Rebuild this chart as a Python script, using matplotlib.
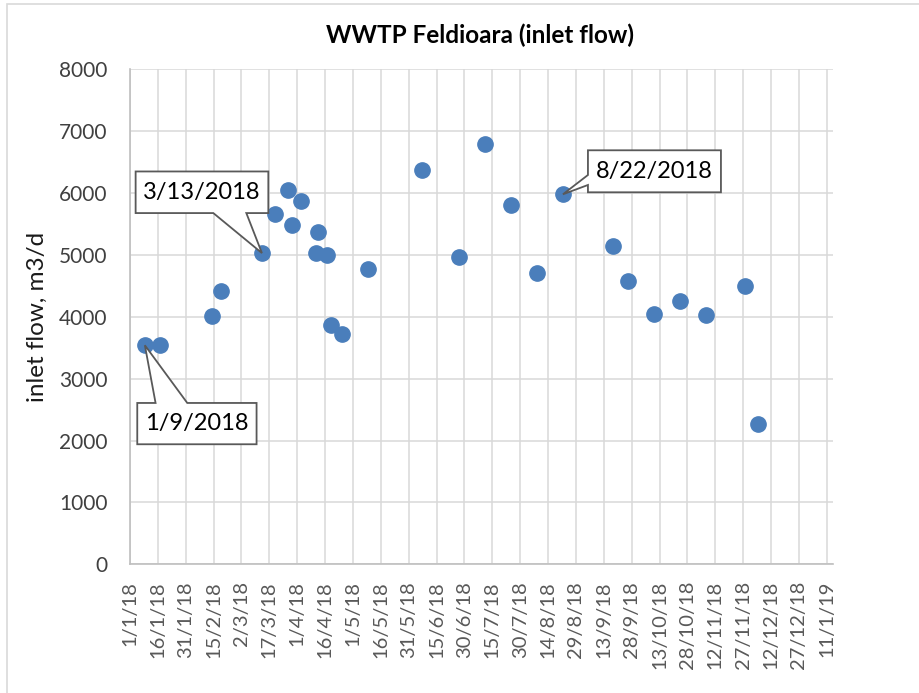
import datetime as dt

import matplotlib
matplotlib.use("Agg")
import matplotlib.pyplot as plt
import matplotlib.dates as mdates
import matplotlib.transforms as mtransforms
from matplotlib.patches import Rectangle, Polygon

# sampling dates and measured inlet flow (m3/d)
sample_dates = ["2018-01-09", "2018-01-17", "2018-02-14", "2018-02-19",
                "2018-03-13", "2018-03-20", "2018-03-27", "2018-03-29",
                "2018-04-03", "2018-04-12", "2018-04-11", "2018-04-17",
                "2018-04-19", "2018-04-25", "2018-05-09", "2018-06-07",
                "2018-06-27", "2018-07-11", "2018-07-25", "2018-08-08",
                "2018-08-22", "2018-09-18", "2018-09-26", "2018-10-10",
                "2018-10-24", "2018-11-07", "2018-11-28", "2018-12-05"]
inlet_flow = [3540, 3550, 4010, 4410,
              5030, 5660, 6050, 5480,
              5870, 5370, 5030, 5000,
              3860, 3730, 4780, 6380,
              4960, 6790, 5800, 4710,
              5980, 5140, 4580, 4050,
              4260, 4030, 4500, 2260]

# labelled points
callouts = ["2018-01-09", "2018-03-13", "2018-08-22"]

# callout shapes in pixels relative to the point:
# box (left, right, bottom, top), pointer base on one edge, text centre
callout_geom = {
    "2018-01-09": dict(box=(-7.6, 111.7, -99, -57.7), edge="top",
                       base=(10.7, 42.4), text=(52, -78.3)),
    "2018-03-13": dict(box=(-126.3, 6.4, 40, 81.6), edge="bottom",
                       base=(-48.6, -15.6), text=(-60, 60.8)),
    "2018-08-22": dict(box=(25, 158, 2, 44), edge="left",
                       base=(9.3, 19.3), text=(91.5, 23)),
}

x_start = dt.datetime(2018, 1, 1)
x_end = dt.datetime(2019, 1, 14, 12)
tick_step_days = 15

dates = [dt.datetime.strptime(d, "%Y-%m-%d") for d in sample_dates]


def callout_outline(box, edge, base):
    l, r, b, t = box
    b0, b1 = base
    if edge == "top":
        return [(l, t), (b0, t), (0, 0), (b1, t), (r, t), (r, b), (l, b)]
    if edge == "bottom":
        return [(l, t), (r, t), (r, b), (b1, b), (0, 0), (b0, b), (l, b)]
    # left edge
    return [(l, t), (r, t), (r, b), (l, b), (l, b0), (0, 0), (l, b1)]


fig = plt.figure(figsize=(9.2, 6.93), dpi=100)
fig.patch.set_facecolor("white")

# light frame of the chart area
fig.patches.append(Rectangle((7 / 920, -0.1), 1.2, 1.1 - 4 / 693,
                             transform=fig.transFigure, fill=False,
                             edgecolor="#D9D9D9", linewidth=1.2))

ax = fig.add_axes([130 / 920, 1 - 564.3 / 693, 703.3 / 920, 495 / 693])

ax.plot(dates, inlet_flow, linestyle="none", marker="o", markersize=11,
        markerfacecolor="#4A7EBB", markeredgecolor="#4A7EBB", zorder=3,
        clip_on=False)

ticks = []
t = x_start
while t <= x_end:
    ticks.append(t)
    t += dt.timedelta(days=tick_step_days)
ax.set_xticks(ticks)
ax.set_xticklabels([f"{d.day}/{d.month}/{d.strftime('%y')}" for d in ticks],
                   rotation=90, fontsize=14.5, color="#595959",
                   family="Lato")
ax.set_xlim(x_start, x_end)

ax.set_ylim(0, 8000)
ax.set_yticks(range(0, 8001, 1000))
ax.tick_params(axis="y", labelsize=15, labelcolor="#404040", length=0, pad=16)
ax.tick_params(axis="x", length=0, pad=12)
for lab in ax.get_yticklabels():
    lab.set_family("Lato")

ax.grid(True, color="#D9D9D9", linewidth=1.1)
ax.set_axisbelow(True)
for side in ["top", "right"]:
    ax.spines[side].set_visible(False)
for side in ["left", "bottom"]:
    ax.spines[side].set_color("#BFBFBF")
    ax.spines[side].set_linewidth(1.2)

ax.set_ylabel("inlet flow, m3/d", fontsize=17.5, family="Lato",
              color="#1a1a1a")
ax.yaxis.set_label_coords(-0.1166, 0.5)

fig.text(480 / 920, 1 - 35 / 693, "WWTP Feldioara (inlet flow)",
         ha="center", va="center", fontsize=17.5, fontweight="bold",
         family="Lato")

for d in callouts:
    i = sample_dates.index(d)
    day = dates[i]
    g = callout_geom[d]
    # pixel offsets measured from the data point
    trans = mtransforms.IdentityTransform() + mtransforms.ScaledTranslation(
        mdates.date2num(day), inlet_flow[i], ax.transData)
    shape = Polygon(callout_outline(g["box"], g["edge"], g["base"]),
                    closed=True, transform=trans, facecolor="white",
                    edgecolor="#595959", linewidth=1.3, zorder=5,
                    clip_on=False)
    ax.add_patch(shape)
    label = f"{day.month}/{day.day}/{day.year}"
    ax.text(g["text"][0], g["text"][1], label, transform=trans,
            ha="center", va="center", fontsize=17, family="Lato",
            color="black", zorder=6)

fig.savefig("out.png", dpi=100)
